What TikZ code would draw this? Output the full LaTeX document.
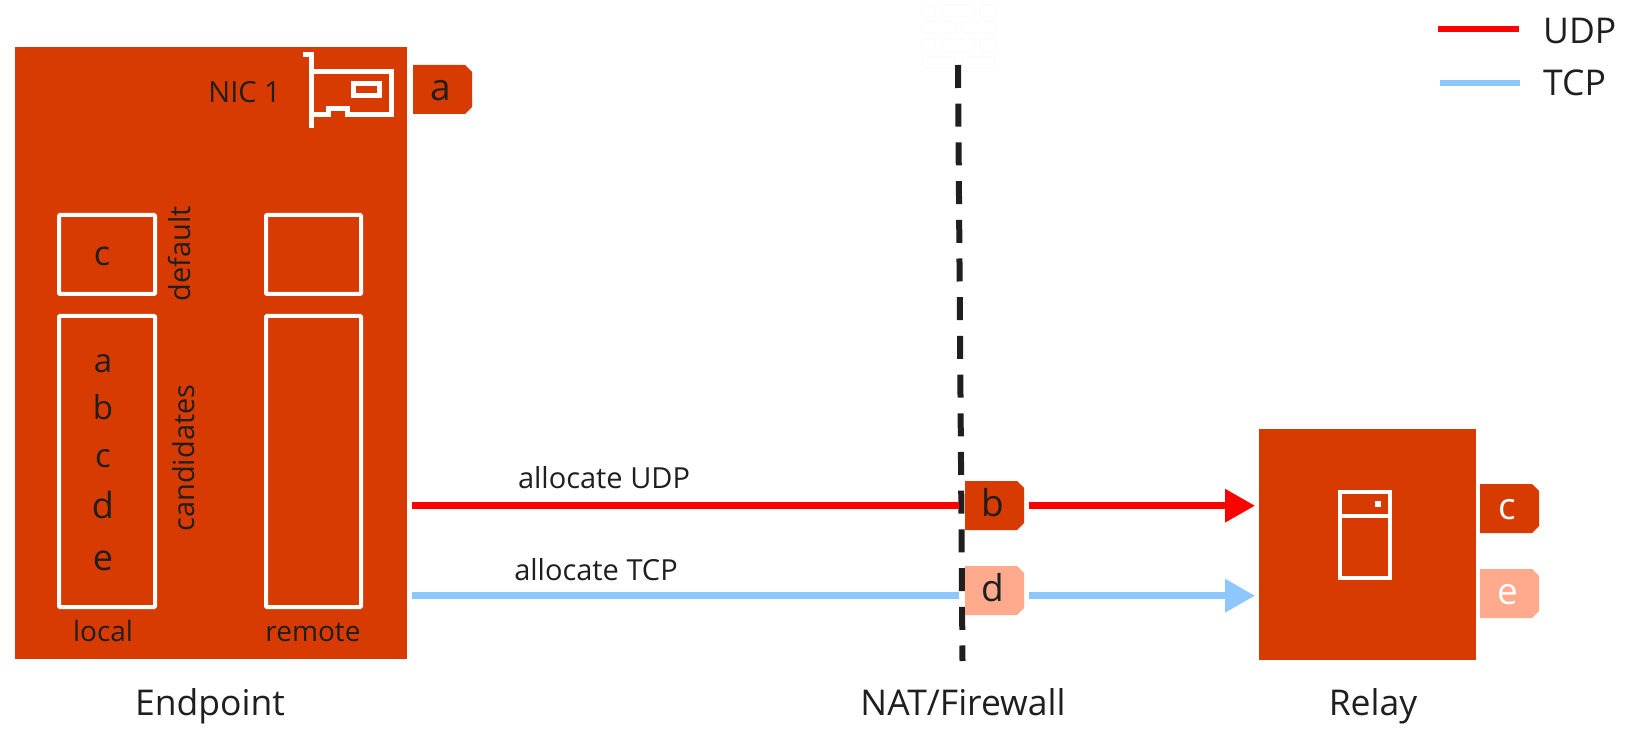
\documentclass[tikz,border=0pt]{standalone}
\usepackage{fontspec}
\setmainfont{Open Sans}
\usetikzlibrary{arrows.meta, positioning, shapes.misc}
\definecolor{office}{HTML}{D83B01}
\definecolor{officelt}{HTML}{FFAA8C}
\definecolor{tcpblue}{HTML}{8CC8FF}
\definecolor{inktxt}{HTML}{1F1F1F}
\definecolor{brickln}{HTML}{FCFCFC}
\newcommand{\fsz}[1]{\fontsize{#1}{#1}\selectfont}

\begin{document}
\begin{tikzpicture}[
    x=1pt, y=-1pt,
    panel/.style={rectangle, fill=office, inner sep=0pt, outer sep=0pt, anchor=north west},
    slot/.style={rectangle, draw=white, line width=4pt, inner sep=0pt, outer sep=0pt, rounded corners=1pt},
    tag/.style={chamfered rectangle, chamfered rectangle corners={north east, south east},
                chamfered rectangle xsep=3.5pt, chamfered rectangle ysep=3.5pt, inner sep=0pt, outer sep=0pt,
                minimum width=59pt, minimum height=49pt, text=inktxt, font=\fsz{37},
                text height=22pt, text depth=0pt, execute at end node=\hspace{4pt}},
    letter/.style={inner sep=0pt, text=inktxt, anchor=base},
    lbl/.style={inner sep=0pt, text=inktxt, font=\fsz{29}},
    captxt/.style={inner sep=0pt, text=inktxt, font=\fsz{35.5}, anchor=base},
    icon/.style={draw=white, line width=5pt},
    brick/.style={draw=brickln, line width=1.5pt, rounded corners=2pt},
    udpline/.style={draw=red, line width=6.5pt},
    tcpline/.style={draw=tcpblue, line width=6.5pt},
    udparr/.style={udpline, -{Triangle[length=30pt, width=32pt]}},
    tcparr/.style={tcpline, -{Triangle[length=30pt, width=32pt]}}
]
\useasboundingbox (0,0) rectangle (1652,735);

% Firewall marks
\foreach \xa/\xb/\ya/\yb in {922/935/5/17, 942/974/5/17, 980/995/5/17,
                             922/955/22/33, 962/995/22/33,
                             922/935/39/51, 942/974/39/51, 980/995/39/51,
                             922/955/57/68, 962/995/57/68}
    \draw[brick] (\xa,\ya) rectangle (\xb,\yb);

% Main boxes
\node[panel, minimum width=392pt, minimum height=612pt] (endpoint) at (15,47) {};
\node[panel, minimum width=217pt, minimum height=231pt] (relay) at (1259,429) {};

% Slots
\node[slot, minimum width=96pt, minimum height=79pt, anchor=north west] (defl) at (59,215) {};
\node[slot, minimum width=95pt, minimum height=79pt, right=111pt of defl] (defr) {};
\node[slot, minimum width=96pt, minimum height=291pt, below=22pt of defl] (candl) {};
\node[slot, minimum width=95pt, minimum height=291pt, below=22pt of defr] (candr) {};

% Slot contents
\node[letter, font=\fsz{34}] (defc) at (102,266) {c};
\foreach \ltr/\yy/\sz in {a/372/33, b/419/33, c/467/33, d/518/36, e/570/36}
    \node[letter, font=\fsz{\sz}] (cand\ltr) at (103,\yy) {\ltr};
\node[lbl, rotate=90] (defaultlbl) at (180,254) {default};
\node[lbl, rotate=90] (candlbl) at (184,458) {candidates};
\node[lbl, anchor=base, font=\fsz{28}] (locallbl) at (103,641) {local};
\node[lbl, anchor=base, font=\fsz{28}] (remotelbl) at (313,641) {remote};

% NIC
\node[lbl, anchor=base east] (niclbl) at (281,102.5) {NIC 1};
\draw[icon] (303,55) -- (311,55) -- (311,128);
\draw[icon] (311,72) -- (391,72) -- (391,115) -- (347,115) -- (347,109) -- (328,109) -- (328,115) -- (311,115);
\draw[icon] (353.5,83.5) rectangle (379.5,95.5);

% Server
\draw[draw=white, line width=4pt] (1340,492) rectangle (1390,578) (1340,516) -- (1390,516);
\fill[white] (1375,501) rectangle (1381,507);

% Firewall line
\coordinate (fwtop) at (958,65);
\coordinate (fwbot) at (962.5,661);
\draw[draw=inktxt, line width=6pt, dash pattern=on 23pt off 15.7pt] (fwtop) -- (fwbot);

% Tags
\node[tag, fill=office, anchor=north west] (taga) at (413,65) {a};
\node[tag, fill=office, anchor=north west] (tagb) at (965,481) {b};
\node[tag, fill=officelt, anchor=north west] (tagd) at (965,566) {d};
\node[tag, fill=office, text=white, anchor=north west] (tagc) at (1480,484) {c};
\node[tag, fill=officelt, text=white, anchor=north west] (tage) at (1480,569) {e};

% Allocations
\coordinate (udpy) at (0,505.7);
\coordinate (tcpy) at (0,595.7);
\draw[udpline, shorten <=4.5pt, shorten >=6pt] (endpoint.east |- udpy) -- (tagb.west |- udpy);
\draw[tcpline, shorten <=4.5pt, shorten >=6pt] (endpoint.east |- tcpy) -- (tagd.west |- tcpy);
\draw[udparr, shorten <=4.5pt, shorten >=4pt] (tagb.east |- udpy) -- (relay.west |- udpy);
\draw[tcparr, shorten <=4.5pt, shorten >=4pt] (tagd.east |- tcpy) -- (relay.west |- tcpy);
\node[lbl] (udplbl) at (604,478) {allocate UDP};
\node[lbl] (tcplbl) at (596,570) {allocate TCP};

% Captions
\node[captxt] (endcap) at (210,715) {Endpoint};
\node[captxt] (natcap) at (963,715) {NAT/Firewall};
\node[captxt] (relaycap) at (1373,715) {Relay};

% Legend
\coordinate (legu) at (1438,29.5);
\coordinate (legt) at (1440,83);
\node[captxt, anchor=base west] (udpkey) at (1543,44) {UDP};
\node[captxt, anchor=base west] (tcpkey) at (1543,96) {TCP};
\draw[udpline, line width=6pt] (legu) -- ++(80.5,0);
\draw[tcpline, line width=6pt] (legt) -- ++(80,0);
\end{tikzpicture}
\end{document}
